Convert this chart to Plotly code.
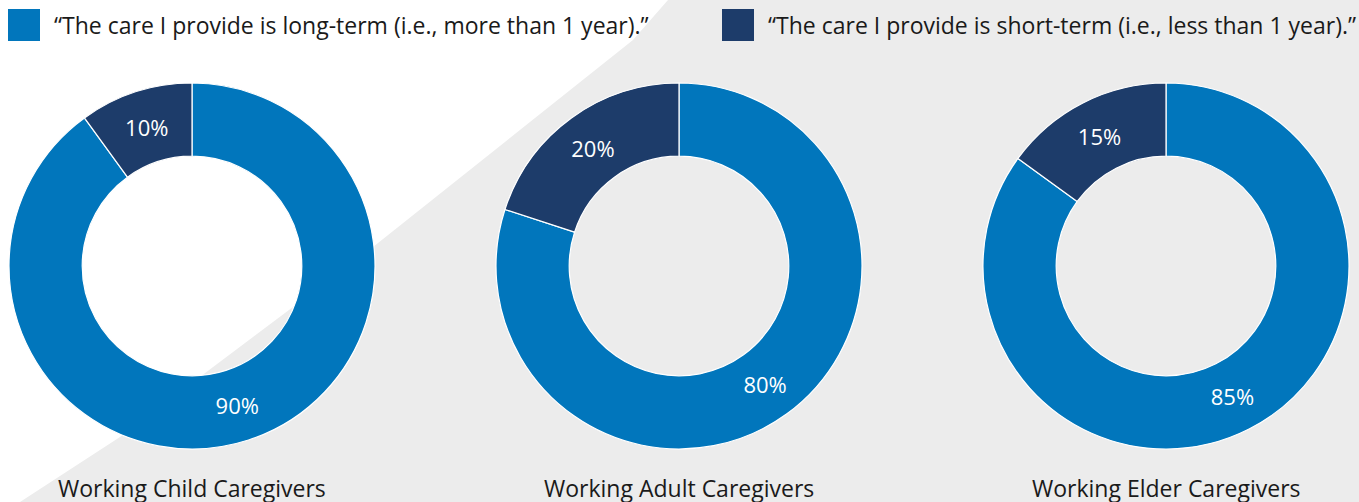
import plotly.graph_objects as go

W, H = 1359, 502

groups = ["Working Child Caregivers", "Working Adult Caregivers", "Working Elder Caregivers"]
series_names = ["\u201cThe care I provide is long-term (i.e., more than 1 year).\u201d",
                "\u201cThe care I provide is short-term (i.e., less than 1 year).\u201d"]
long_term = [90, 80, 85]
short_term = [10, 20, 15]
colors = ["#0176bc", "#1d3c6a"]

FONT = "Open Sans"

fig = go.Figure()

centers_px = [192, 679, 1166]
R = 183
cy = 266

def px_x(v):
    return v / W

def px_y(v):
    return 1 - v / H

for i, g in enumerate(groups):
    cx = centers_px[i]
    fig.add_trace(go.Pie(
        labels=series_names,
        values=[long_term[i], short_term[i]],
        hole=0.6,
        sort=False,
        direction="clockwise",
        rotation=0,
        marker=dict(colors=colors, line=dict(color="white", width=1.2)),
        texttemplate="%{value}%",
        textposition="inside",
        insidetextorientation="horizontal",
        textfont=dict(family=FONT, size=22, color="white"),
        domain=dict(x=[px_x(cx - R), px_x(cx + R)], y=[px_y(cy + R), px_y(cy - R)]),
        showlegend=False,
        hoverinfo="label+value",
    ))
    fig.add_annotation(
        x=px_x(cx), y=px_y(488), xref="paper", yref="paper",
        text=g, showarrow=False, xanchor="center", yanchor="middle",
        font=dict(family=FONT, size=23, color="#1a1a1a"),
    )

# textured background region (upper-right)
pts = [(668, 0), (633, 40), (373, 247), (120, 437), (20, 502), (W, H), (W, 0)]
path = "M " + " L ".join(f"{px_x(x):.5f},{px_y(y):.5f}" for x, y in pts) + " Z"
fig.add_shape(type="path", path=path, xref="paper", yref="paper",
              fillcolor="#ececec", line=dict(width=0), layer="below")

# legend
leg_x = [8, 722]
for j, name in enumerate(series_names):
    x0 = leg_x[j]
    fig.add_shape(type="rect", xref="paper", yref="paper",
                  x0=px_x(x0), x1=px_x(x0 + 32), y0=px_y(41), y1=px_y(9),
                  fillcolor=colors[j], line=dict(width=0))
    fig.add_annotation(x=px_x(x0 + 44), y=px_y(25), xref="paper", yref="paper",
                       text=name, showarrow=False, xanchor="left", yanchor="middle",
                       font=dict(family=FONT, size=23, color="#1a1a1a"))

fig.update_layout(
    width=W, height=H,
    margin=dict(l=0, r=0, t=0, b=0),
    paper_bgcolor="white", plot_bgcolor="white",
)

fig.write_html("out.html",
               config={"displayModeBar": False},
               post_script="document.body.style.margin='0';document.body.style.overflow='hidden';")
